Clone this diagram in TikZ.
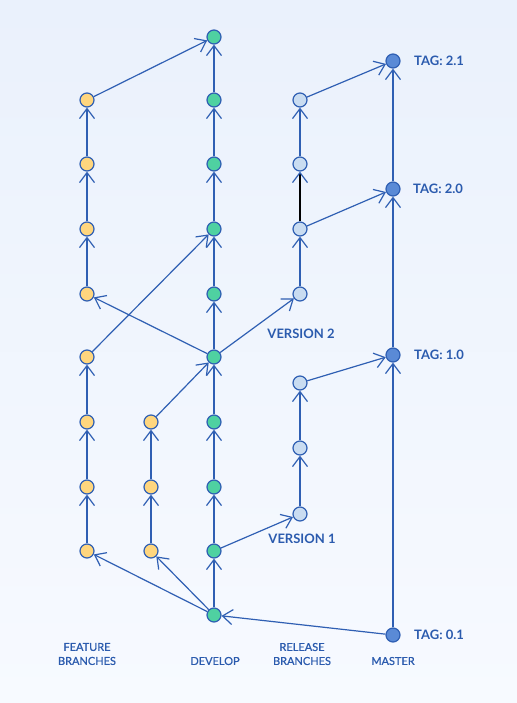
\documentclass[tikz,border=0pt]{standalone}
\usepackage{fontspec}
\setmainfont{Lato}
\newfontfamily\medfont[FakeBold=0.8]{Lato}
\usetikzlibrary{arrows.meta}
\definecolor{bgtop}{HTML}{EAF1FC}
\definecolor{bgbot}{HTML}{F7FAFF}
\definecolor{ln}{HTML}{2F5FB3}
\definecolor{txt}{HTML}{2B5BAE}
\definecolor{devc}{HTML}{4FD1A1}
\definecolor{featc}{HTML}{FFD67E}
\definecolor{relc}{HTML}{C9DCF1}
\definecolor{masc}{HTML}{5A8AD6}
\tikzset{
  commit/.style={circle, draw=ln, line width=1.2bp, minimum size=14bp, inner sep=0pt},
  devnode/.style={commit, fill=devc},
  featnode/.style={commit, fill=featc},
  relnode/.style={commit, fill=relc},
  masnode/.style={commit, fill=masc},
  flow/.style={draw=ln, line width=1.2bp, -{Straight Barb[length=10bp,width=15bp,line width=1.2bp,color=ln]}},
  tagtxt/.style={text=txt, font=\bfseries\fontsize{13bp}{15bp}\selectfont, anchor=west, inner sep=0pt},
  vertxt/.style={text=txt, font=\bfseries\fontsize{13bp}{15bp}\selectfont, inner sep=0pt},
  coltxt/.style={text=txt, font=\medfont\fontsize{11bp}{14bp}\selectfont, align=center, inner sep=0pt},
}
\begin{document}
\begin{tikzpicture}[x=1bp, y=-1bp]
\shade[top color=bgtop, bottom color=bgbot] (0,0) rectangle (517,703);
\useasboundingbox (0,0) rectangle (517,703);

% develop
\foreach \i/\y in {0/615,1/551,2/487,3/422,4/357,5/294,6/229,7/164,8/100,9/37}
  \node[devnode] (d\i) at (214,\y) {};
% feature A
\foreach \i/\y in {1/551,2/487,3/422,4/357,5/294,6/229,7/164,8/100}
  \node[featnode] (fa\i) at (87,\y) {};
% feature B
\foreach \i/\y in {1/551,2/487,3/422}
  \node[featnode] (fb\i) at (151,\y) {};
% release
\foreach \i/\y in {1/514,2/448,3/383,4/294,5/229,6/164,7/100}
  \node[relnode] (r\i) at (300,\y) {};
% master
\foreach \i/\y in {0/635,1/355,2/189,3/61}
  \node[masnode] (m\i) at (393,\y) {};

% develop chain
\foreach \a/\b in {0/1,1/2,2/3,3/4,4/5,5/6,6/7,7/8,8/9}
  \draw[flow] (d\a) -- (d\b);
% feature A
\foreach \a/\b in {1/2,2/3,3/4,5/6,6/7,7/8}
  \draw[flow] (fa\a) -- (fa\b);
\draw[flow] (d0) -- (fa1);
\draw[flow] (fa4) -- (d6);
\draw[flow] (d4) -- (fa5);
\draw[flow] (fa8) -- (d9);
% feature B
\draw[flow] (fb1) -- (fb2);
\draw[flow] (fb2) -- (fb3);
\draw[flow] (d0) -- (fb1);
\draw[flow] (fb3) -- (d4);
% release 1
\draw[flow] (d1) -- (r1);
\draw[flow] (r1) -- (r2);
\draw[flow] (r2) -- (r3);
\draw[flow] (r3) -- (m1);
% release 2
\draw[flow] (d4) -- (r4);
\draw[flow] (r4) -- (r5);
\draw[flow, draw=black] (r5) -- (r6);
\draw[flow] (r6) -- (r7);
\draw[flow] (r5) -- (m2);
\draw[flow] (r7) -- (m3);
% master
\draw[flow] (m0) -- (m1);
\draw[flow] (m1) -- (m2);
\draw[flow] (m2) -- (m3);
\draw[flow] (m0) -- (d0);

% labels
\node[tagtxt] (t21) at (414,61) {TAG: 2.1};
\node[tagtxt] (t20) at (413,189) {TAG: 2.0};
\node[tagtxt] (t10) at (414,355) {TAG: 1.0};
\node[tagtxt] (t01) at (414,635) {TAG: 0.1};
\node[vertxt] (v2) at (301,334) {VERSION 2};
\node[vertxt] (v1) at (302,539) {VERSION 1};
\node[coltxt] (lf) at (87,654) {FEATURE\\BRANCHES};
\node[coltxt] (ld) at (215,661) {DEVELOP};
\node[coltxt] (lr) at (302,654) {RELEASE\\BRANCHES};
\node[coltxt] (lm) at (393,661) {MASTER};
\end{tikzpicture}
\end{document}
